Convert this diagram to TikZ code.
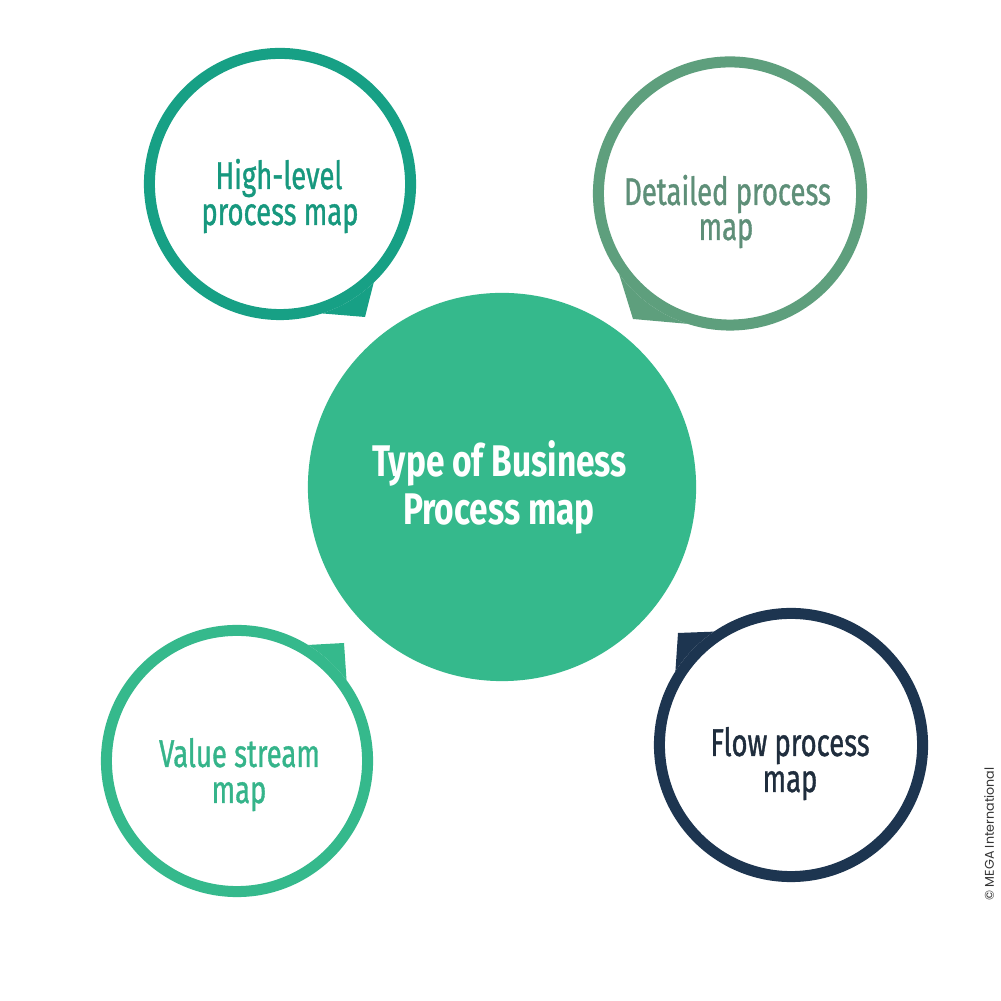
\documentclass[tikz,border=0pt]{standalone}
\usepackage{fontspec}
\usetikzlibrary{calc}
\newfontfamily\condfont[FakeStretch=0.71, FakeBold=0.9]{Fira Sans}
\newfontfamily\condcenter[FakeStretch=0.755]{Fira Sans}
\newfontfamily\copyfont{Poppins}
\definecolor{cTL}{HTML}{17A085}
\definecolor{cTLt}{HTML}{17987E}
\definecolor{cTR}{HTML}{5E9F7D}
\definecolor{cTRt}{HTML}{5E8F78}
\definecolor{cBL}{HTML}{35B98C}
\definecolor{cBLt}{HTML}{35B48A}
\definecolor{cBR}{HTML}{1D3550}
\definecolor{cBRt}{HTML}{1F2D3D}
\definecolor{cC}{HTML}{35B98C}
\definecolor{cCopy}{HTML}{333333}
\begin{document}
\begin{tikzpicture}[x=0.01cm,y=0.01cm,
  ring/.style={circle, draw, line width=0.11cm, minimum size=2.61cm, inner sep=0pt},
  outtext/.style={anchor=base, inner sep=0pt, font=\condfont\fontsize{11pt}{11pt}\selectfont},
  centext/.style={anchor=base, inner sep=0pt, text=white, font=\condcenter\bfseries\fontsize{12.6pt}{12.6pt}\selectfont}]
\fill[white] (0,0) rectangle (1001,1001);
\useasboundingbox (0,0) rectangle (1001,1001);

% central circle
\node[circle, fill=cC, minimum size=3.88cm, inner sep=0pt] (hub) at (502,514) {};
\node[centext] (hub1) at (499.5,524) {Type of Business};
\node[centext] (hub2) at (499,476) {Process map};

% top-left
\node[ring, draw=cTL] (tl) at (280,817) {};
\coordinate (tltip) at (365,684);
\fill[cTL] ($(tl.center)+(-46.5:1.36cm)$) -- (tltip) -- ($(tl.center)+(-72:1.36cm)$) arc[start angle=-72, end angle=-46.5, radius=1.36cm] -- cycle;
\node[outtext, text=cTLt] (tl1) at (279,812) {High-level};
\node[outtext, text=cTLt] (tl2) at (280,776) {process map};

% top-right
\node[ring, draw=cTR, minimum size=2.63cm] (tr) at (730,807.5) {};
\coordinate (trtip) at (633,682);
\fill[cTR] ($(tr.center)+(-108:1.37cm)$) -- (trtip) -- ($(tr.center)+(-144:1.37cm)$) arc[start angle=-144, end angle=-108, radius=1.37cm] -- cycle;
\node[outtext, text=cTRt] (tr1) at (727.5,796) {Detailed process};
\node[outtext, text=cTRt] (tr2) at (726,761) {map};

% bottom-left
\node[ring, draw=cBL] (bl) at (237,240) {};
\coordinate (bltip) at (344,358);
\fill[cBL] ($(bl.center)+(58.5:1.36cm)$) -- (bltip) -- ($(bl.center)+(36.4:1.36cm)$) arc[start angle=36.4, end angle=58.5, radius=1.36cm] -- cycle;
\node[outtext, text=cBLt] (bl1) at (239.5,234) {Value stream};
\node[outtext, text=cBLt] (bl2) at (239,198) {map};

% bottom-right
\node[ring, draw=cBR, minimum size=2.63cm] (br) at (791,256) {};
\coordinate (brtip) at (678,368);
\fill[cBR] ($(br.center)+(147.5:1.37cm)$) -- (brtip) -- ($(br.center)+(124.2:1.37cm)$) arc[start angle=124.2, end angle=147.5, radius=1.37cm] -- cycle;
\node[outtext, text=cBRt] (br1) at (790,245) {Flow process};
\node[outtext, text=cBRt] (br2) at (790,209) {map};

% copyright
\node[rotate=90, inner sep=0pt, text=cCopy, font=\copyfont\fontsize{3.6pt}{3.6pt}\selectfont] (copy) at (989,167) {\textcopyright\ MEGA International};
\end{tikzpicture}
\end{document}
